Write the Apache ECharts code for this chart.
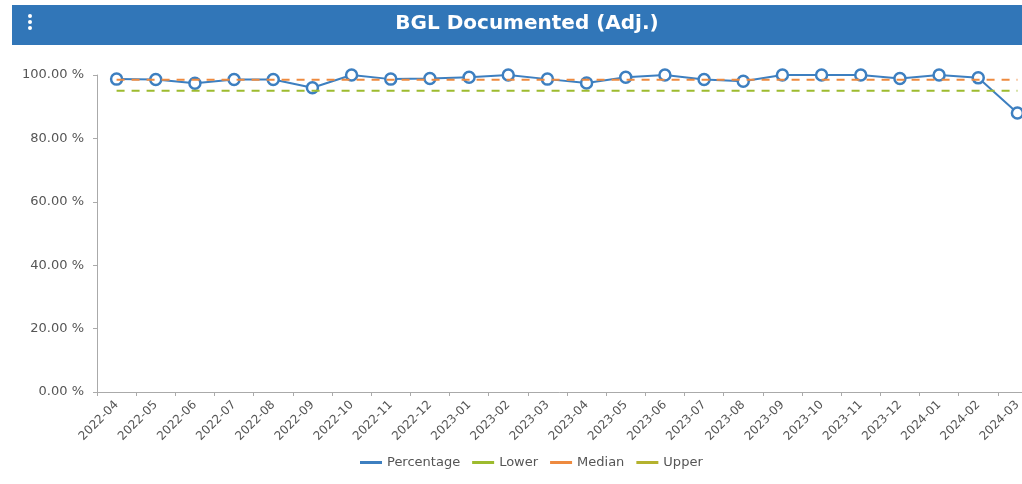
<!DOCTYPE html>
<html>
<head>
<meta charset="utf-8">
<style>
  html, body { margin: 0; padding: 0; background: #ffffff; }
  #chart { width: 1022px; height: 484px; }
</style>
<script src="https://cdn.jsdelivr.net/npm/echarts@6/dist/echarts.min.js"></script>
</head>
<body>
<div id="chart"></div>
<script>
// Monthly categories
const months = [
  '2022-04', '2022-05', '2022-06', '2022-07', '2022-08', '2022-09',
  '2022-10', '2022-11', '2022-12', '2023-01', '2023-02', '2023-03',
  '2023-04', '2023-05', '2023-06', '2023-07', '2023-08', '2023-09',
  '2023-10', '2023-11', '2023-12', '2024-01', '2024-02', '2024-03'
];

// Documented percentage per month
const percentage = [
  98.7, 98.6, 97.4, 98.6, 98.6, 96.0,
  100.0, 98.7, 98.9, 99.3, 100.0, 98.7,
  97.5, 99.3, 100.0, 98.6, 98.0, 100.0,
  100.0, 100.0, 98.9, 100.0, 99.1, 88.0
];

// Control limits
const lowerValue = 95.0;
const medianValue = 98.5;
const upperValue = 101.0;

const lower = months.map(() => lowerValue);
const median = months.map(() => medianValue);
const upper = months.map(() => upperValue);

// Y axis range
const yMin = 0;
const yMax = 100;
const yStep = 20;

const chart = echarts.init(document.getElementById('chart'), null, { renderer: 'canvas' });

const labelFont = '"DejaVu Sans", Verdana, sans-serif';
const blue = '#3d7fc0';

function limitSeries(name, data, color) {
  return {
    name: name,
    type: 'line',
    data: data,
    symbol: 'none',
    lineStyle: { color: color, width: 2, type: [8, 7] },
    itemStyle: { color: color },
    clip: true,
    z: 3
  };
}

chart.setOption({
  animation: false,
  backgroundColor: '#ffffff',
  graphic: [
    {
      type: 'rect',
      shape: { x: 12, y: 5, width: 1010, height: 40 },
      style: { fill: '#3176b8' },
      silent: true
    },
    { type: 'circle', shape: { cx: 30, cy: 16, r: 2 }, style: { fill: '#ffffff' } },
    { type: 'circle', shape: { cx: 30, cy: 22, r: 2 }, style: { fill: '#ffffff' } },
    { type: 'circle', shape: { cx: 30, cy: 28, r: 2 }, style: { fill: '#ffffff' } },
    {
      type: 'text',
      x: 527,
      y: 24,
      style: {
        text: 'BGL Documented (Adj.)',
        fill: '#ffffff',
        align: 'center',
        verticalAlign: 'middle',
        font: 'bold 20px "DejaVu Sans", sans-serif'
      }
    }
  ],
  grid: {
    left: 97,
    top: 75,
    width: 940,
    height: 317,
    outerBoundsMode: 'none',
    containLabel: false
  },
  legend: {
    bottom: 10,
    left: 355,
    icon: 'rect',
    itemWidth: 22,
    itemHeight: 3,
    itemGap: 12,
    textStyle: { color: '#555555', fontSize: 13, fontFamily: labelFont },
    data: [
      { name: 'Percentage', itemStyle: { color: blue, borderWidth: 0 } },
      'Lower', 'Median', 'Upper'
    ]
  },
  xAxis: {
    type: 'category',
    data: months,
    boundaryGap: true,
    axisLine: { lineStyle: { color: '#aaaaaa', width: 1 } },
    axisTick: { show: true, lineStyle: { color: '#aaaaaa' }, length: 4 },
    axisLabel: {
      rotate: 45,
      interval: 0,
      color: '#555555',
      fontSize: 12,
      fontFamily: labelFont,
      margin: 11
    },
    splitLine: { show: false }
  },
  yAxis: {
    type: 'value',
    min: yMin,
    max: yMax,
    interval: yStep,
    axisLine: { show: true, lineStyle: { color: '#aaaaaa', width: 1 } },
    axisTick: { show: true, length: 4, lineStyle: { color: '#aaaaaa' } },
    axisLabel: {
      color: '#555555',
      fontSize: 13,
      fontFamily: labelFont,
      margin: 13,
      formatter: v => v.toFixed(2) + ' %'
    },
    splitLine: { show: false }
  },
  series: [
    {
      name: 'Percentage',
      type: 'line',
      data: percentage,
      symbol: 'circle',
      symbolSize: 11,
      lineStyle: { color: blue, width: 2 },
      itemStyle: { color: '#ffffff', borderColor: blue, borderWidth: 2.5 },
      z: 2
    },
    limitSeries('Lower', lower, '#9dbb2e'),
    limitSeries('Median', median, '#ee8a3f'),
    limitSeries('Upper', upper, '#b4b22e')
  ]
});
</script>
</body>
</html>
